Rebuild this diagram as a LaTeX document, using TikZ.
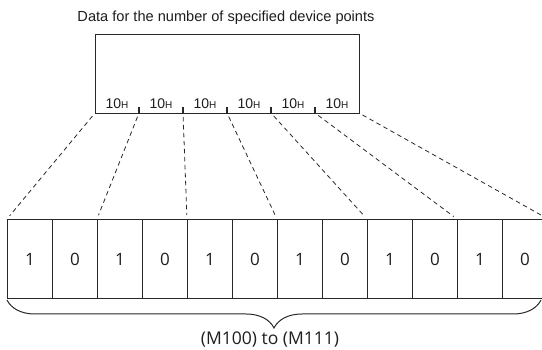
\documentclass[tikz,border=0pt]{standalone}
\usepackage{fontspec}
\setmainfont{Liberation Sans}
\newfontfamily\myr{Open Sans}
\usetikzlibrary{decorations.pathreplacing}
\definecolor{linec}{RGB}{40,40,40}
\definecolor{textc}{RGB}{30,30,30}
\tikzset{
  titletext/.style={font=\fontsize{14.6}{16}\selectfont, text=textc, inner sep=0},
  hexlabel/.style={font=\fontsize{14}{16}\selectfont, text=textc, inner sep=0, anchor=base},
  bitcell/.style={draw=linec, line width=1.1pt, minimum width=45, minimum height=79, inner sep=0, anchor=north west, font=\myr\fontsize{17}{20}\selectfont, text=textc},
  framebox/.style={draw=linec, line width=1.3pt, minimum width=264, minimum height=79, inner sep=0, anchor=north west},
  tickline/.style={draw=linec, line width=1.1pt},
  dashline/.style={draw=linec, line width=0.8pt, dash pattern=on 4.5pt off 3.5pt, shorten <=4pt, shorten >=4pt},
  bracelinestyle/.style={draw=linec, line width=1pt, decorate, decoration={brace, amplitude=28pt}},
  rangetext/.style={font=\myr\fontsize{17.5}{20}\selectfont, text=textc, inner sep=0}
}
\begin{document}
\begin{tikzpicture}[x=1pt,y=-1pt]
\useasboundingbox (0,0) rectangle (542,350);
\clip (0,0) rectangle (542,350);
\node[titletext] (title) at (226,18) {Data for the number of specified device points};
\node[framebox] (box) at (95,34) {};
\foreach \k in {0,...,6} {
  \coordinate (t\k) at (95+44*\k,113);
}
\foreach \k in {1,...,5} {
  \draw[tickline] (t\k) -- ++(0,-6);
}
\foreach \k in {0,...,5} {
  \node[hexlabel] (h\k) at (117+44*\k,109) {10{\fontsize{10}{12}\selectfont H}};
}
\foreach \i in {0,...,11} {
  \pgfmathtruncatemacro{\bit}{mod(\i+1,2)}
  \node[bitcell] (c\i) at (7+45*\i,219) {\bit};
}
\foreach \k in {0,...,5} {
  \pgfmathtruncatemacro{\j}{2*\k}
  \draw[dashline] (t\k) -- (c\j.north west);
}
\draw[dashline] (t6) -- (c11.north east);
\coordinate (bL) at (7,300);
\coordinate (bR) at (541,300);
\draw[bracelinestyle] (bR) -- (bL);
\node[rangetext] (range) at (270,340) {(M100) to (M111)};
\end{tikzpicture}
\end{document}
